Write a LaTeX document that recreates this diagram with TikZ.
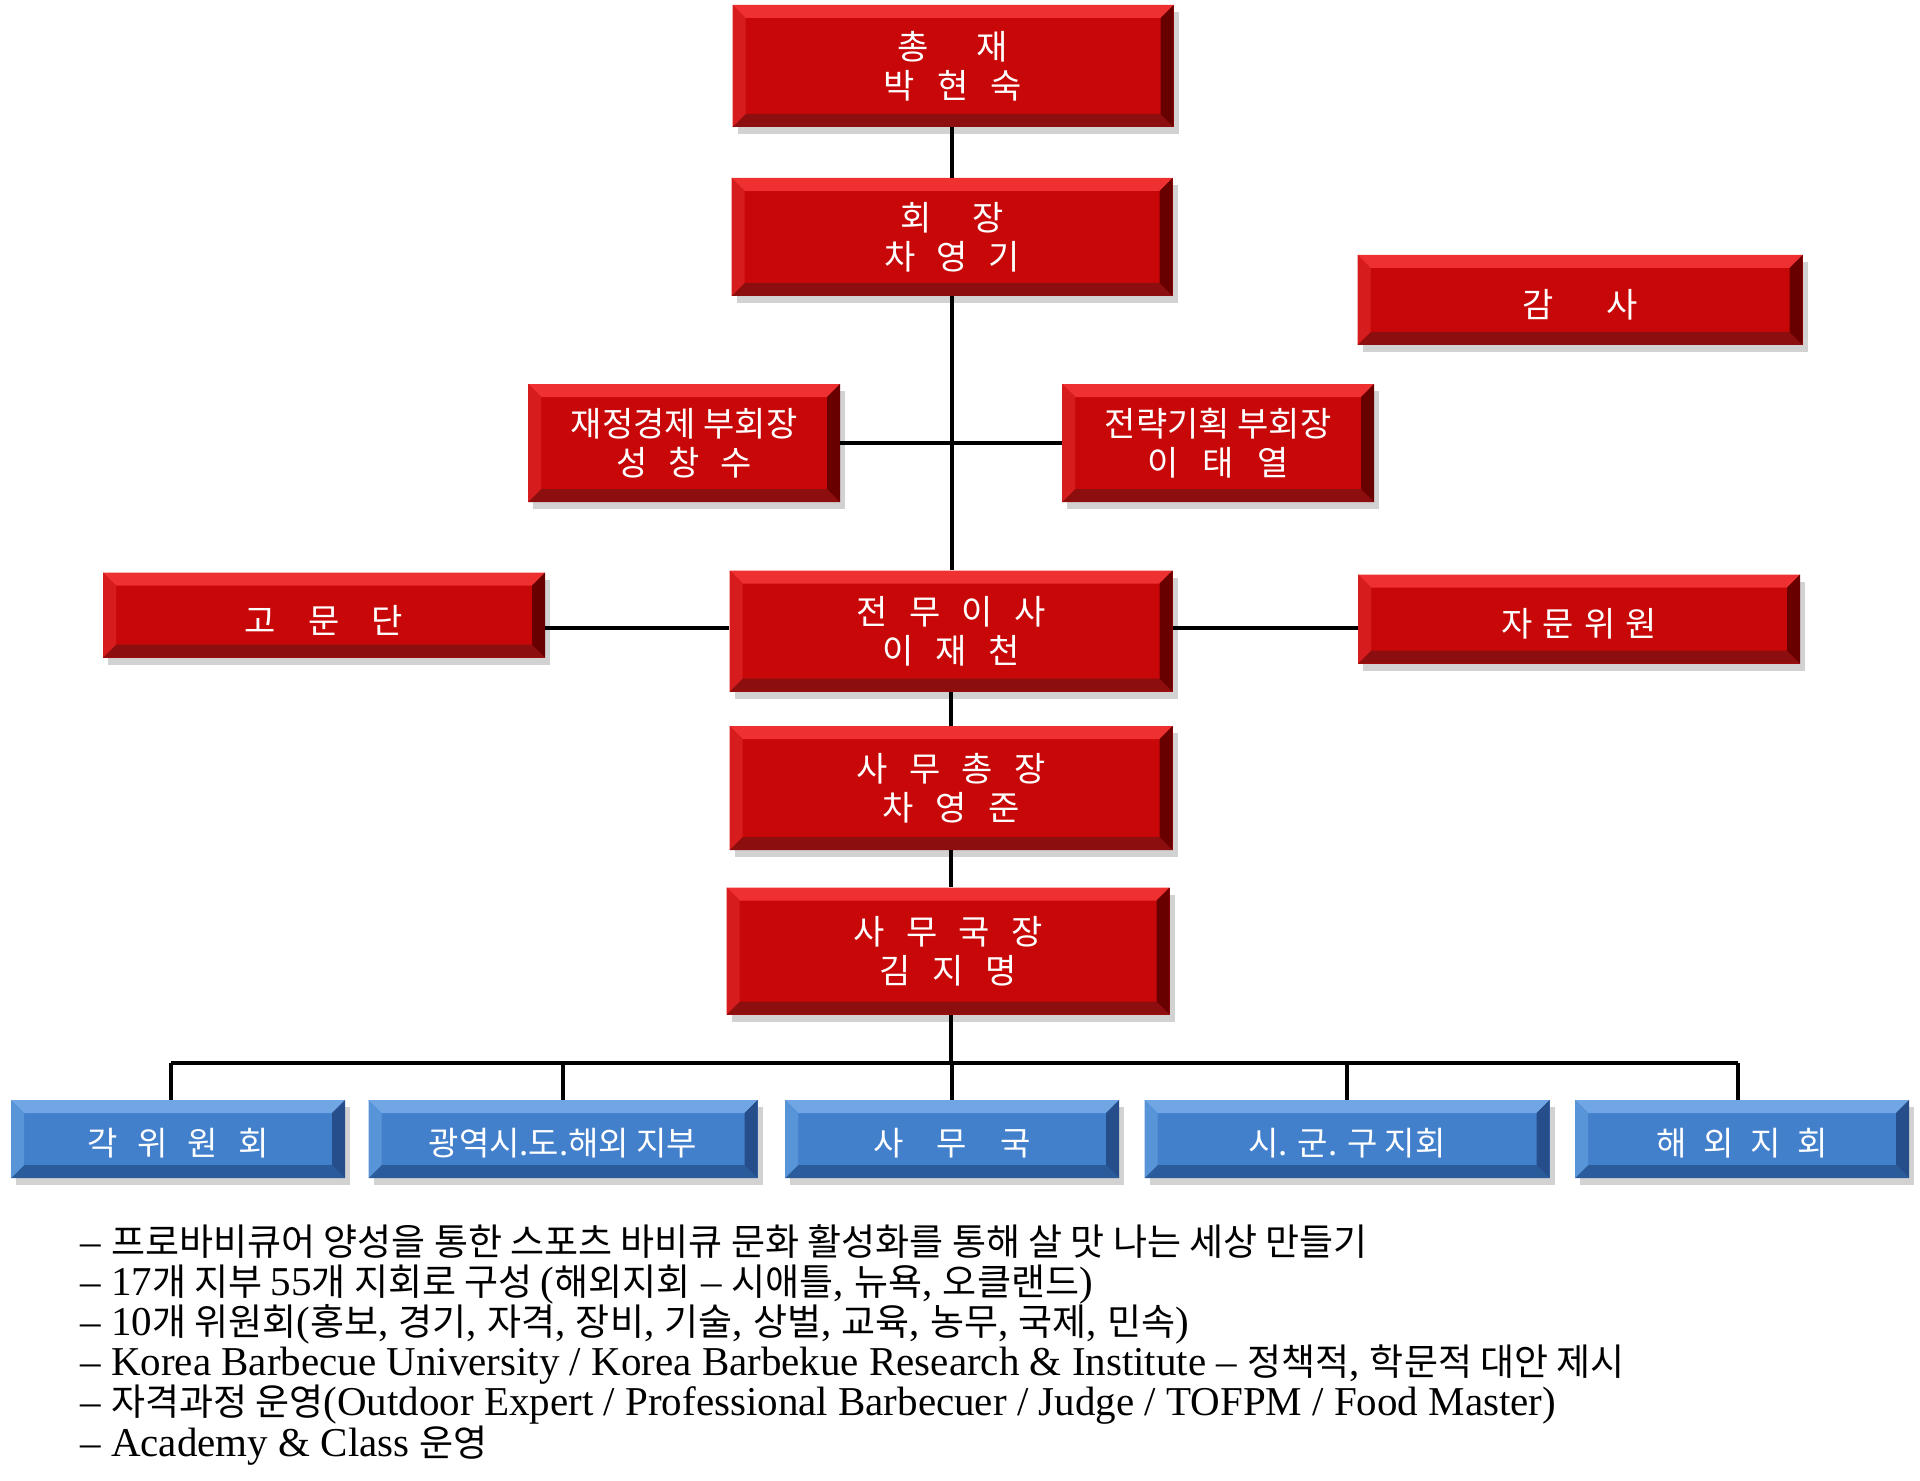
\documentclass[tikz,border=0pt]{standalone}
\usepackage{fontspec}
\setmainfont{Liberation Serif}
\newfontfamily\kr{Noto Sans CJK KR}
\newfontfamily\lat{Liberation Serif}
\usetikzlibrary{shadows}
\definecolor{rmain}{RGB}{200,8,8}
\definecolor{rtop}{RGB}{238,48,48}
\definecolor{rbot}{RGB}{140,14,14}
\definecolor{rright}{RGB}{105,0,0}
\definecolor{rleft}{RGB}{214,28,28}
\definecolor{bmain}{RGB}{66,128,204}
\definecolor{btop}{RGB}{112,166,228}
\definecolor{bbot}{RGB}{42,92,156}
\definecolor{bright}{RGB}{38,78,138}
\definecolor{bleft}{RGB}{88,148,216}
\newcommand\K[1]{{\kr\fontsize{18.5}{20}\selectfont #1}}
\tikzset{
  bevelbox/.style n args={5}{draw=none, fill=#1, inner sep=0pt,
    drop shadow={opacity=0.35, shadow xshift=2.5pt, shadow yshift=-3.5pt},
    path picture={
      \fill[#2] (path picture bounding box.north west) -- (path picture bounding box.north east)
        -- ([xshift=-6.5pt,yshift=-6.5pt]path picture bounding box.north east)
        -- ([xshift=6.5pt,yshift=-6.5pt]path picture bounding box.north west) -- cycle;
      \fill[#3] (path picture bounding box.south west) -- (path picture bounding box.south east)
        -- ([xshift=-6.5pt,yshift=6.5pt]path picture bounding box.south east)
        -- ([xshift=6.5pt,yshift=6.5pt]path picture bounding box.south west) -- cycle;
      \fill[#4] (path picture bounding box.north west) -- ([xshift=6.5pt,yshift=-6.5pt]path picture bounding box.north west)
        -- ([xshift=6.5pt,yshift=6.5pt]path picture bounding box.south west) -- (path picture bounding box.south west) -- cycle;
      \fill[#5] (path picture bounding box.north east) -- ([xshift=-6.5pt,yshift=-6.5pt]path picture bounding box.north east)
        -- ([xshift=-6.5pt,yshift=6.5pt]path picture bounding box.south east) -- (path picture bounding box.south east) -- cycle;
    }},
  redbox/.style={bevelbox={rmain}{rtop}{rbot}{rleft}{rright}, text=white, align=center,
    font=\kr\fontsize{17}{19.5}\selectfont, execute at begin node={\rule{0pt}{19pt}}},
  bluebox/.style={bevelbox={bmain}{btop}{bbot}{bleft}{bright}, text=white, align=center,
    minimum height=39pt, font=\kr\fontsize{16.5}{19}\selectfont, execute at begin node={\rule{0pt}{18pt}}},
  conn/.style={line width=2pt, black},
  note/.style={anchor=base west, inner sep=0pt, font=\lat\fontsize{20.5}{20}\selectfont}
}
\begin{document}
\begin{tikzpicture}[x=0.5pt, y=-0.5pt]
\useasboundingbox[fill=white] (0,0) rectangle (1920,1481);

% nodes
\node[redbox, minimum width=220.5pt, minimum height=61pt] (chong) at (953,66) {총\hspace{1.4em}재\\박\hspace{0.65em}현\hspace{0.65em}숙};
\node[redbox, minimum width=220.5pt, minimum height=59pt] (hoe) at (952,237) {회\hspace{1.2em}장\\차\hspace{0.6em}영\hspace{0.6em}기};
\node[redbox, minimum width=222.5pt, minimum height=45pt] (gamsa) at (1580,300) {감\hspace{1.55em}사};
\node[redbox, minimum width=156pt, minimum height=59pt] (jae) at (684,443) {재정경제 부회장\\성\hspace{0.6em}창\hspace{0.6em}수};
\node[redbox, minimum width=156pt, minimum height=59pt] (jeon) at (1218,443) {전략기획 부회장\\이\hspace{0.7em}태\hspace{0.7em}열};
\node[redbox, minimum width=221pt, minimum height=42.5pt] (gomun) at (324,615) {고\hspace{0.95em}문\hspace{0.95em}단};
\node[redbox, minimum width=221.5pt, minimum height=60.5pt] (jeonmu) at (951,631) {전\hspace{0.63em}무\hspace{0.63em}이\hspace{0.63em}사\\이\hspace{0.63em}재\hspace{0.63em}천};
\node[redbox, minimum width=221pt, minimum height=44.5pt] (jamun) at (1579,619) {자\hspace{0.3em}문\hspace{0.3em}위\hspace{0.3em}원};
\node[redbox, minimum width=221.5pt, minimum height=62pt] (samuch) at (951,788) {사\hspace{0.63em}무\hspace{0.63em}총\hspace{0.63em}장\\차\hspace{0.63em}영\hspace{0.63em}준};
\node[redbox, minimum width=221.5pt, minimum height=63.5pt] (samug) at (948,951) {사\hspace{0.63em}무\hspace{0.63em}국\hspace{0.63em}장\\김\hspace{0.63em}지\hspace{0.63em}명};

\node[bluebox, minimum width=167pt] (b1) at (178,1139) {각\hspace{0.6em}위\hspace{0.6em}원\hspace{0.6em}회};
\node[bluebox, minimum width=194.5pt] (b2) at (563,1139) {광역시.도.해외 지부};
\node[bluebox, minimum width=167pt] (b3) at (952,1139) {사\hspace{1em}무\hspace{1em}국};
\node[bluebox, minimum width=202.5pt] (b4) at (1347,1139) {시. 군. 구 지회};
\node[bluebox, minimum width=167pt] (b5) at (1742,1139) {해\hspace{0.5em}외\hspace{0.5em}지\hspace{0.5em}회};

% connectors
\coordinate (busL) at (171,1063);
\coordinate (busR) at (1738,1063);
\coordinate (sideY) at (0,628);
\draw[conn] (chong.south -| hoe.north) -- (hoe.north);
\draw[conn] (hoe.south) -- (hoe.south |- jeonmu.north);
\draw[conn] (jae.east) -- (jeon.west);
\draw[conn] (gomun.east |- sideY) -- (jeonmu.west |- sideY);
\draw[conn] (jeonmu.east |- sideY) -- (jamun.west |- sideY);
\draw[conn] (jeonmu.south) -- (samuch.north);
\draw[conn] (samuch.south) -- (samuch.south |- samug.north);
\draw[conn] (samug.south -| jeonmu.south) -- (jeonmu.south |- busL);
\draw[conn] (busL) -- (busR);
\draw[conn] (busL) -- (busL |- b1.north);
\draw[conn] (b2.north |- busL) -- (b2.north);
\draw[conn] (b3.north |- busL) -- (b3.north);
\draw[conn] (b4.north |- busL) -- (b4.north);
\draw[conn] (busR) -- (busR |- b5.north);

% notes
\node[note] (n1) at (80,1255) {– \K{프로바비큐어 양성을 통한 스포츠 바비큐 문화 활성화를 통해 살 맛 나는 세상 만들기}};
\node[note] (n2) at (80,1295) {– 17\K{개 지부 }55\K{개 지회로 구성 }(\K{해외지회} – \K{시애틀}, \K{뉴욕}, \K{오클랜드})};
\node[note] (n3) at (80,1335) {– 10\K{개 위원회}(\K{홍보}, \K{경기}, \K{자격}, \K{장비}, \K{기술}, \K{상벌}, \K{교육}, \K{농무}, \K{국제}, \K{민속})};
\node[note] (n4) at (80,1375) {– Korea Barbecue University / Korea Barbekue Research \& Institute – \K{정책적}, \K{학문적 대안 제시}};
\node[note] (n5) at (80,1415) {– \K{자격과정 운영}(Outdoor Expert / Professional Barbecuer / Judge / TOFPM / Food Master)};
\node[note] (n6) at (80,1456) {– Academy \& Class \K{운영}};
\end{tikzpicture}
\end{document}
